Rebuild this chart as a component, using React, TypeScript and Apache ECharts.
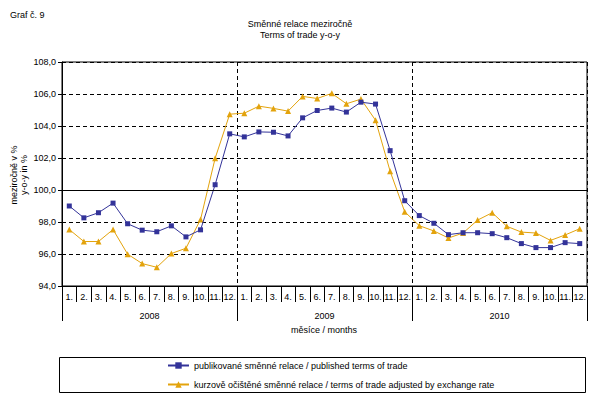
import React, { useEffect, useRef } from "react";
import * as echarts from "echarts";

const monthLabels: string[] = [
  "1.", "2.", "3.", "4.", "5.", "6.", "7.", "8.", "9.", "10.", "11.", "12.",
  "1.", "2.", "3.", "4.", "5.", "6.", "7.", "8.", "9.", "10.", "11.", "12.",
  "1.", "2.", "3.", "4.", "5.", "6.", "7.", "8.", "9.", "10.", "11.", "12.",
];
const yearLabels: string[] = ["2008", "2009", "2010"];

const publishedName = "publikované směnné relace / published terms of trade";
const adjustedName = "kurzově očištěné směnné relace / terms of trade adjusted by exchange rate";

const published: number[] = [
  99.0, 98.26, 98.58, 99.18, 97.89, 97.49, 97.39, 97.76, 97.07, 97.51, 100.33, 103.51,
  103.32, 103.63, 103.61, 103.38, 104.51, 104.97, 105.12, 104.87, 105.49, 105.37, 102.46, 99.33,
  98.4, 97.92, 97.21, 97.33, 97.33, 97.27, 97.02, 96.65, 96.4, 96.4, 96.71, 96.65,
];
const adjusted: number[] = [
  97.53, 96.78, 96.78, 97.53, 95.99, 95.4, 95.17, 96.03, 96.36, 98.16, 101.98, 104.74,
  104.8, 105.24, 105.1, 104.93, 105.85, 105.72, 106.04, 105.39, 105.68, 104.36, 101.17, 98.64,
  97.77, 97.44, 97.0, 97.31, 98.12, 98.58, 97.73, 97.37, 97.31, 96.85, 97.19, 97.58,
];

const FONT = "'Liberation Sans', Arial, sans-serif";
const BLUE = "#333399";
const GOLD = "#E3A30C";

export default function App() {
  const ref = useRef<HTMLDivElement>(null);
  useEffect(() => {
    if (!ref.current) return;
    const chart = echarts.init(ref.current, null, { renderer: "svg" });
    const txt = { fontFamily: FONT, fontSize: 9, color: "#000" };
    chart.setOption({
      animation: false,
      backgroundColor: "#fff",
      grid: {
        left: 62,
        right: 15,
        top: 62,
        bottom: 126,
        show: true,
        borderColor: "#000",
        borderWidth: 1,
        containLabel: false,
      },
      xAxis: [
        {
          type: "category",
          data: monthLabels,
          position: "bottom",
          boundaryGap: true,
          axisLine: { show: true, lineStyle: { color: "#000", width: 1 } },
          axisTick: { show: true, interval: 0, length: 16, lineStyle: { color: "#000" } },
          axisLabel: { ...txt, interval: 0, margin: 6 },
          splitLine: { show: false },
        },
        {
          type: "category",
          data: yearLabels,
          position: "bottom",
          offset: 0,
          boundaryGap: true,
          axisLine: { show: false },
          axisTick: { show: true, interval: 0, length: 35, lineStyle: { color: "#000" } },
          axisLabel: { ...txt, interval: 0, margin: 25 },
          splitLine: { show: true, lineStyle: { color: "#000", type: [4, 3], width: 1 } },
        },
      ],
      yAxis: {
        type: "value",
        min: 94,
        max: 108,
        interval: 2,
        axisLine: { show: true, lineStyle: { color: "#000" } },
        axisTick: { show: true, length: 4, lineStyle: { color: "#000" } },
        axisLabel: {
          ...txt,
          margin: 6,
          formatter: (v: number) => v.toFixed(1).replace(".", ","),
        },
        splitLine: { show: true, lineStyle: { color: "#000", type: [4, 3], width: 1 } },
      },
      legend: {
        orient: "vertical",
        left: 167,
        top: 361,
        itemWidth: 21,
        itemHeight: 8,
        itemGap: 10,
        padding: 0,
        textStyle: { ...txt },
        data: [publishedName, adjustedName],
      },
      series: [
        {
          name: publishedName,
          type: "line",
          xAxisIndex: 0,
          data: published,
          symbol: "rect",
          symbolSize: 5,
          lineStyle: { color: BLUE, width: 1 },
          itemStyle: { color: BLUE },
          z: 3,
          markLine: {
            silent: true,
            symbol: "none",
            label: { show: false },
            lineStyle: { color: "#000", type: "solid", width: 1 },
            data: [{ yAxis: 100 }],
          },
        },
        {
          name: adjustedName,
          type: "line",
          xAxisIndex: 0,
          data: adjusted,
          symbol: "triangle",
          symbolSize: 6,
          lineStyle: { color: GOLD, width: 1 },
          itemStyle: { color: GOLD },
          z: 2,
        },
      ],
      graphic: [
        {
          type: "text",
          left: 10,
          top: 10,
          style: { text: "Graf č. 9", font: `9px ${FONT}`, fill: "#000" },
        },
        {
          type: "text",
          x: 300,
          y: 18,
          style: {
            text: "Směnné relace meziročně\nTerms of trade y-o-y",
            font: `9px ${FONT}`,
            fill: "#000",
            align: "center",
            lineHeight: 11,
          },
        },
        {
          type: "text",
          x: 19,
          y: 175,
          rotation: Math.PI / 2,
          style: {
            text: "meziročně v %\ny-o-y in %",
            font: `9px ${FONT}`,
            fill: "#000",
            align: "center",
            verticalAlign: "middle",
            lineHeight: 10,
          },
        },
        {
          type: "text",
          x: 324,
          y: 330,
          style: {
            text: "měsíce / months",
            font: `9px ${FONT}`,
            fill: "#000",
            align: "center",
            verticalAlign: "middle",
          },
        },
        {
          type: "rect",
          shape: { x: 59.5, y: 357.5, width: 526, height: 35 },
          style: { fill: "none", stroke: "#000", lineWidth: 1 },
          z: -1,
        },
      ],
    });
    return () => chart.dispose();
  }, []);
  return (
    <div
      ref={ref}
      style={{ position: "fixed", left: 0, top: 0, width: 602, height: 412 }}
    />
  );
}
